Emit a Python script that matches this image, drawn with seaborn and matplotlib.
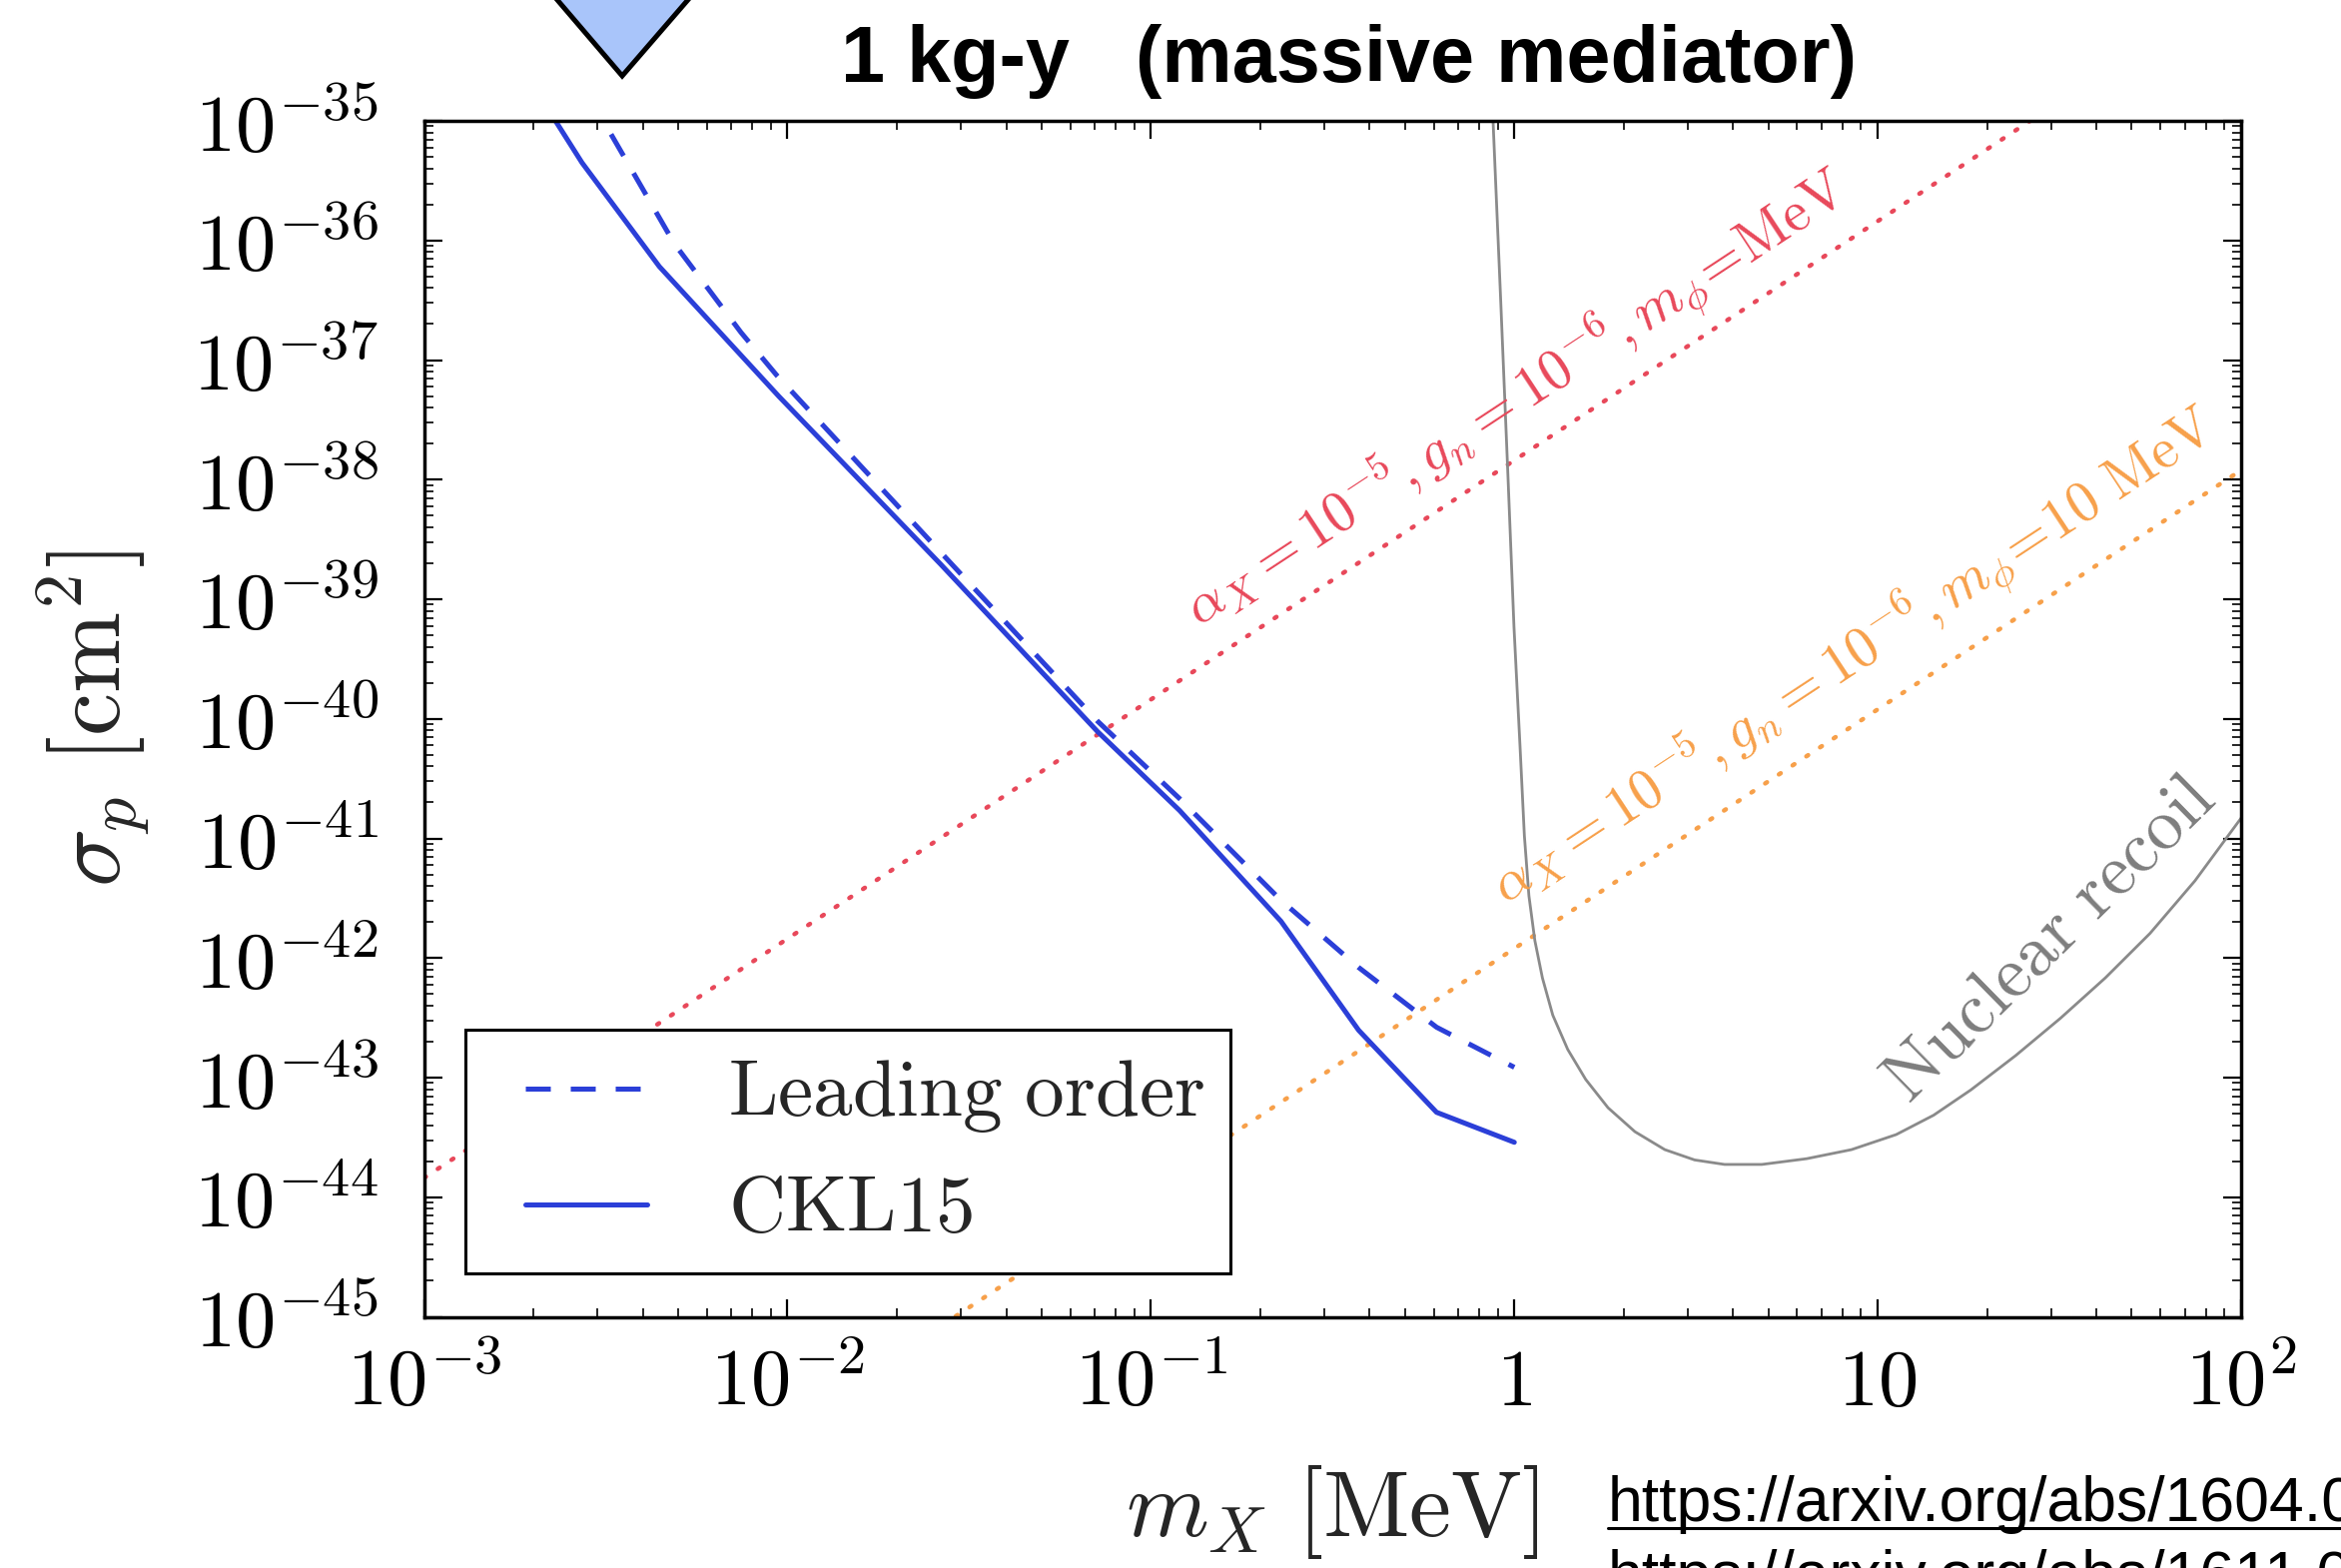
import numpy as np
import matplotlib
matplotlib.use("Agg")
import matplotlib.pyplot as plt
import seaborn as sns
from matplotlib.ticker import FixedLocator, LogLocator, NullFormatter
from matplotlib.patches import Polygon
from matplotlib.lines import Line2D
from matplotlib.legend_handler import HandlerLine2D

# ---------------- data ----------------
mx_ckl15 = [0.00229, 0.00272, 0.00444, 0.00948, 0.0264, 0.0713, 0.120, 0.228, 0.373, 0.611, 1.0]
sig_ckl15 = [1.02e-35, 4.47e-36, 6.05e-37, 4.95e-38, 1.96e-39, 7.83e-41, 1.71e-41,
             2.03e-42, 2.49e-43, 5.13e-44, 2.88e-44]

mx_lo = [0.00327, 0.00488, 0.00745, 0.00935, 0.0264, 0.0713, 0.120, 0.228, 0.373, 0.611, 1.0]
sig_lo = [7.73e-36, 9.42e-37, 1.70e-37, 7.43e-38, 2.47e-39, 9.57e-41, 2.15e-41,
          3.04e-42, 8.34e-43, 2.64e-43, 1.22e-43]

mx_nr = [0.874, 0.917, 0.961, 0.998, 1.037, 1.066, 1.097, 1.139, 1.195, 1.276, 1.403,
         1.572, 1.811, 2.148, 2.595, 3.135, 3.789, 4.800, 6.376, 8.468, 11.24, 14.25,
         18.05, 23.97, 31.84, 42.29, 56.17, 74.62, 100.0]
sig_nr = [1.0e-35, 3.27e-37, 1.04e-38, 5.86e-40, 5.88e-41, 1.05e-41, 3.32e-42, 1.40e-42,
          6.82e-43, 3.33e-43, 1.72e-43, 9.66e-44, 5.60e-44, 3.53e-44, 2.50e-44, 2.05e-44,
          1.88e-44, 1.88e-44, 2.10e-44, 2.50e-44, 3.34e-44, 4.85e-44, 7.90e-44, 1.53e-43,
          3.14e-43, 6.82e-43, 1.61e-42, 4.42e-42, 1.48e-41]

mx_bench = [1e-3, 1e2]
sig_bench_1mev = [1.45e-44, 1.45e-34]
sig_bench_10mev = [1.2e-48, 1.2e-38]

xticks = [1e-3, 1e-2, 1e-1, 1, 10, 1e2]
xtick_labels = [r"$10^{-3}$", r"$10^{-2}$", r"$10^{-1}$", r"$1$", r"$10$", r"$10^{2}$"]
yticks = [10.0 ** (-k) for k in range(35, 46)]
ytick_labels = [r"$10^{-%d}$" % k for k in range(35, 46)]

label_lo = r"$\mathrm{Leading\ order}$"
label_ckl = r"$\mathrm{CKL15}$"
label_red = r"$\alpha_X = 10^{-5},g_n = 10^{-6},m_\phi\!=\!\mathrm{MeV}$"
label_orange = r"$\alpha_X = 10^{-5},g_n = 10^{-6},m_\phi\!=\!10\ \mathrm{MeV}$"
label_nr = r"$\mathrm{Nuclear\ recoil}$"

# ---------------- style ----------------
sns.set_theme(style="ticks")
plt.rcParams.update({
    "font.family": ["DejaVu Serif"],
    "mathtext.fontset": "cm",
    "axes.linewidth": 2.5,
    "axes.edgecolor": "black",
    "xtick.direction": "in",
    "ytick.direction": "in",
    "xtick.top": True,
    "ytick.right": True,
    "xtick.color": "black",
    "ytick.color": "black",
})

BLUE = "#2b3fd8"
RED = "#e8485a"
ORANGE = "#f7a04a"
GRAY = "#8a8a8a"

W, H = 2344, 1570
fig = plt.figure(figsize=(W / 100, H / 100), dpi=100)
fig.patch.set_facecolor("white")
ax = fig.add_axes([424.6 / W, 1 - 1318.5 / H, (2244 - 424.6) / W, (1318.5 - 121) / H])
ax.set_facecolor("white")
ax.set_xscale("log")
ax.set_yscale("log")
ax.set_xlim(1e-3, 1e2)
ax.set_ylim(1e-45, 1e-35)

# benchmark dotted lines
sns.lineplot(x=mx_bench, y=sig_bench_1mev, ax=ax, color=RED, lw=3.2,
             linestyle=(0, (0.5, 3.2)), dash_capstyle="round", sort=False, estimator=None)
sns.lineplot(x=mx_bench, y=sig_bench_10mev, ax=ax, color=ORANGE, lw=3.2,
             linestyle=(0, (0.5, 3.2)), dash_capstyle="round", sort=False, estimator=None)
# nuclear recoil
sns.lineplot(x=mx_nr, y=sig_nr, ax=ax, color=GRAY, lw=2.0, sort=False, estimator=None)
# reach curves
sns.lineplot(x=mx_lo, y=sig_lo, ax=ax, color=BLUE, lw=3.6, linestyle=(0, (5, 4)),
             sort=False, estimator=None, label=label_lo)
sns.lineplot(x=mx_ckl15, y=sig_ckl15, ax=ax, color=BLUE, lw=3.6,
             sort=False, estimator=None, label=label_ckl)

ax.set_xlim(1e-3, 1e2)
ax.set_ylim(1e-45, 1e-35)

# ticks
ax.xaxis.set_major_locator(FixedLocator(xticks))
ax.set_xticklabels(xtick_labels)
ax.yaxis.set_major_locator(FixedLocator(yticks))
ax.set_yticklabels(ytick_labels)
ax.xaxis.set_minor_locator(LogLocator(base=10, subs=np.arange(2, 10), numticks=100))
ax.yaxis.set_minor_locator(LogLocator(base=10, subs=np.arange(2, 10), numticks=100))
ax.xaxis.set_minor_formatter(NullFormatter())
ax.yaxis.set_minor_formatter(NullFormatter())
ax.tick_params(which="major", length=13, width=1.6, labelsize=58)
ax.tick_params(which="minor", length=6.5, width=1.2)
ax.tick_params(axis="x", which="major", pad=20)
ax.tick_params(axis="y", which="major", pad=33)
for s in ax.spines.values():
    s.set_visible(True)
    s.set_linewidth(2.5)
    s.set_color("black")

# axis labels
ax.set_xlabel(r"$m_X\ [\mathrm{MeV}]$", fontsize=68)
ax.xaxis.set_label_coords(0.5, -0.122)
ax.set_ylabel(r"$\sigma_p\ [\mathrm{cm}^2]$", fontsize=70)
ax.yaxis.set_label_coords(-0.150, 0.5)

# legend
h, l = ax.get_legend_handles_labels()
order = [l.index(label_lo), l.index(label_ckl)]
leg = ax.legend([h[i] for i in order], [l[i] for i in order], loc="lower left",
                bbox_to_anchor=(0.0225, 0.036), borderaxespad=0, fontsize=57,
                frameon=True, fancybox=False, shadow=False, framealpha=1,
                edgecolor="black", facecolor="white", handlelength=1.98,
                handletextpad=1.02, borderpad=0.33, labelspacing=0.47,
                handler_map={Line2D: HandlerLine2D(xpad=0.43)})
leg.get_frame().set_linewidth(2.2)


def screen_angle(x1, y1, x2, y2):
    p1 = ax.transData.transform((x1, y1))
    p2 = ax.transData.transform((x2, y2))
    return np.degrees(np.arctan2(p2[1] - p1[1], p2[0] - p1[0]))


ang_red = screen_angle(mx_bench[0], sig_bench_1mev[0], mx_bench[1], sig_bench_1mev[1])
ang_or = screen_angle(mx_bench[0], sig_bench_10mev[0], mx_bench[1], sig_bench_10mev[1])

ax.text(0.136, 5.8e-40, label_red, rotation=ang_red, rotation_mode="anchor",
        ha="left", va="baseline", color=RED, fontsize=41)
ax.text(0.95, 2.79e-42, label_orange, rotation=ang_or, rotation_mode="anchor",
        ha="left", va="baseline", color=ORANGE, fontsize=41)
ax.text(12.2, 5.9e-44, label_nr, rotation=44.5, rotation_mode="anchor",
        ha="left", va="baseline", color="#7d7d7d", fontsize=52)

# title (slide text)
fig.text(1350.7 / W, 1 - 82 / H, "1 kg-y   (massive mediator)", ha="center", va="baseline",
         fontsize=57, fontweight="bold", family=["Liberation Sans", "DejaVu Sans"], color="black")

# links (slide text, cut by the edge as in the reference)
url_x = 1610 / W
fig.text(url_x, 1 - 1523 / H, "https://arxiv.org/abs/1604.08206", ha="left", va="baseline",
         fontsize=45, family=["Liberation Sans", "DejaVu Sans"], color="black")
fig.add_artist(Line2D([url_x, 1.0], [1 - 1530 / H] * 2, transform=fig.transFigure,
                      color="black", lw=2.2))
fig.text(url_x, 1 - 1597 / H, "https://arxiv.org/abs/1611.06228", ha="left", va="baseline",
         fontsize=45, family=["Liberation Sans", "DejaVu Sans"], color="black")

# slide pointer triangle
tri = [(541 / W, 1 + 20 / H), (706 / W, 1 + 20 / H), (623 / W, 1 - 76 / H)]
fig.add_artist(Polygon(tri, closed=True, transform=fig.transFigure, facecolor="#a9c5fa",
                       edgecolor="black", lw=3.6, joinstyle="miter", clip_on=False))

fig.savefig("out.png", dpi=100, facecolor="white")
